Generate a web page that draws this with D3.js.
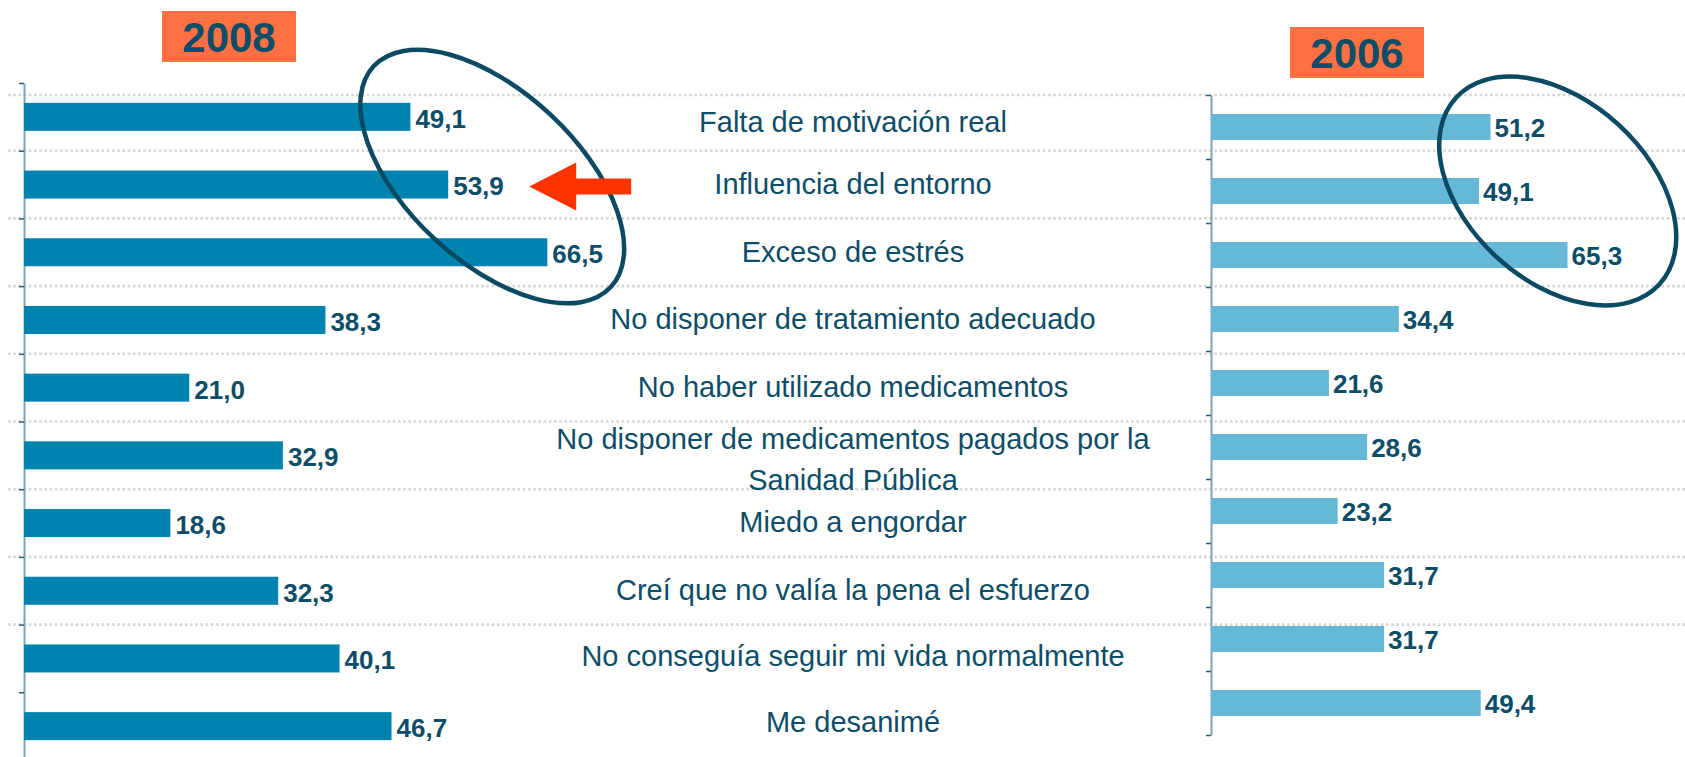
<!DOCTYPE html>
<html>
<head>
<meta charset="utf-8">
<script src="https://cdn.jsdelivr.net/npm/d3@7"></script>
<style>
  body { margin: 0; background: #fff; }
  svg { display: block; font-family: "Liberation Sans", Arial, sans-serif; }
</style>
</head>
<body>
<div id="chart"></div>
<script>
//Data
const categories = [
  "Falta de motivación real",
  "Influencia del entorno",
  "Exceso de estrés",
  "No disponer de tratamiento adecuado",
  "No haber utilizado medicamentos",
  "No disponer de medicamentos pagados por la\nSanidad Pública",
  "Miedo a engordar",
  "Creí que no valía la pena el esfuerzo",
  "No conseguía seguir mi vida normalmente",
  "Me desanimé"
];
const values2008 = [49.1, 53.9, 66.5, 38.3, 21.0, 32.9, 18.6, 32.3, 40.1, 46.7];
const values2006 = [51.2, 49.1, 65.3, 34.4, 21.6, 28.6, 23.2, 31.7, 31.7, 49.4];
const years = ["2008", "2006"];

//Dimensions
const width = 1685;
const height = 757;
const darkText = "#0c4d68";

const svg = d3.select("#chart").append("svg").attr("width", width).attr("height", height);

//Scales for the two panels
const xL = d3.scaleLinear().domain([0, 100]).range([24, 811]);
const xR = d3.scaleLinear().domain([0, 100]).range([1211, 1757]);
const yL = d3.scaleBand().domain(categories).range([83, 760]).paddingInner(0.586).paddingOuter(0.293);
const yR = d3.scaleBand().domain(categories).range([95, 735]).paddingInner(0.594).paddingOuter(0.297);

//Linear scales on band edges, used for axis ticks and table rows
const edgeL = d3.scaleLinear().domain([0, categories.length]).range(yL.range());
const edgeR = d3.scaleLinear().domain([0, categories.length]).range(yR.range());

//Dotted row lines of the table
const gridY = [edgeR(0)].concat(d3.range(1, 9).map(edgeL));
svg.append("g").selectAll("line").data(gridY).enter().append("line")
  .attr("x1", 8).attr("x2", width)
  .attr("y1", d => d).attr("y2", d => d)
  .attr("stroke", "#d6d6d6").attr("stroke-width", 2.6).attr("stroke-dasharray", "2.6 2.6");

//Axes (no labels, small ticks to the left)
function drawAxis(scale, x) {
  const g = svg.append("g").attr("transform", `translate(${x},0)`)
    .call(d3.axisLeft(scale).ticks(categories.length).tickSize(5).tickSizeOuter(0).tickFormat(""));
  g.select(".domain").attr("stroke", "#7fa2b4").attr("stroke-width", 2);
  g.selectAll(".tick line").attr("stroke", "#2e5f78").attr("stroke-width", 1.5);
}
drawAxis(edgeL, xL(0));
drawAxis(edgeR, xR(0));

const fmt = v => d3.format(".1f")(v).replace(".", ",");

//2008 bars
svg.append("g").selectAll("rect").data(values2008).enter().append("rect")
  .attr("x", xL(0))
  .attr("y", (d, i) => yL(categories[i]))
  .attr("width", d => xL(d) - xL(0))
  .attr("height", yL.bandwidth())
  .attr("fill", "#0083ae");

svg.append("g").selectAll("text").data(values2008).enter().append("text")
  .attr("x", d => xL(d) + 5)
  .attr("y", (d, i) => yL(categories[i]) + yL.bandwidth() / 2)
  .attr("dy", "0.42em")
  .style("font-size", "26px").style("font-weight", "bold").attr("fill", darkText)
  .text(fmt);

//2006 bars
svg.append("g").selectAll("rect").data(values2006).enter().append("rect")
  .attr("x", xR(0))
  .attr("y", (d, i) => yR(categories[i]))
  .attr("width", d => xR(d) - xR(0))
  .attr("height", yR.bandwidth())
  .attr("fill", "#66b8d7");

svg.append("g").selectAll("text").data(values2006).enter().append("text")
  .attr("x", d => xR(d) + 4)
  .attr("y", (d, i) => yR(categories[i]) + yR.bandwidth() / 2)
  .attr("dy", "0.37em")
  .style("font-size", "26px").style("font-weight", "bold").attr("fill", darkText)
  .text(fmt);

//Category labels in the middle, centred in their table rows
const rowEdges = gridY.concat([edgeL(9) - 4, edgeL(10) - 4]);
const centerX = 853;
const lab = svg.append("g").selectAll("text").data(categories).enter().append("text")
  .attr("text-anchor", "middle")
  .style("font-size", "29px").attr("fill", darkText);
lab.each(function (d, i) {
  const lines = d.split("\n");
  const cy = (rowEdges[i] + rowEdges[i + 1]) / 2 - 1 + (lines.length > 1 ? 5 : 0);
  d3.select(this).selectAll("tspan").data(lines).enter().append("tspan")
    .attr("x", centerX)
    .attr("y", (l, j) => cy + (j - (lines.length - 1) / 2) * 41)
    .attr("dy", "0.36em")
    .text(l => l);
});

//Year boxes
const yearBoxes = [{ cx: 229, y: 11 }, { cx: 1357, y: 27 }];
yearBoxes.forEach((b, i) => {
  svg.append("rect").attr("x", b.cx - 67).attr("y", b.y).attr("width", 134).attr("height", 51).attr("fill", "#ff7142");
  svg.append("text").attr("x", b.cx).attr("y", b.y + 26).attr("dy", "0.36em")
    .attr("text-anchor", "middle").style("font-size", "42px").style("font-weight", "bold")
    .attr("fill", darkText).text(years[i]);
});

//Highlight ellipses round the first three bars
const lcx = xL(59.5), lcy = yL(categories[1]) + yL.bandwidth() / 2 - 8;
svg.append("ellipse").attr("cx", lcx).attr("cy", lcy).attr("rx", 162).attr("ry", 85)
  .attr("transform", `rotate(43 ${lcx} ${lcy})`)
  .attr("fill", "none").attr("stroke", "#0b4a62").attr("stroke-width", 4.5);

const rcx = xR(63.5), rcy = yR(categories[1]) + yR.bandwidth() / 2;
svg.append("ellipse").attr("cx", rcx).attr("cy", rcy).attr("rx", 138).attr("ry", 90)
  .attr("transform", `rotate(42.5 ${rcx} ${rcy})`)
  .attr("fill", "none").attr("stroke", "#0b4a62").attr("stroke-width", 4.5);

//Red arrow pointing to "Influencia del entorno"
const ax = xL(values2008[1]) + 81, ay = yL(categories[1]) + yL.bandwidth() / 2 + 2;
svg.append("path")
  .attr("d", `M${ax},${ay} L${ax + 47},${ay - 24} L${ax + 47},${ay - 8} L${ax + 102},${ay - 8} L${ax + 102},${ay + 8} L${ax + 47},${ay + 8} L${ax + 47},${ay + 24} Z`)
  .attr("fill", "#ff3300");
</script>
</body>
</html>
